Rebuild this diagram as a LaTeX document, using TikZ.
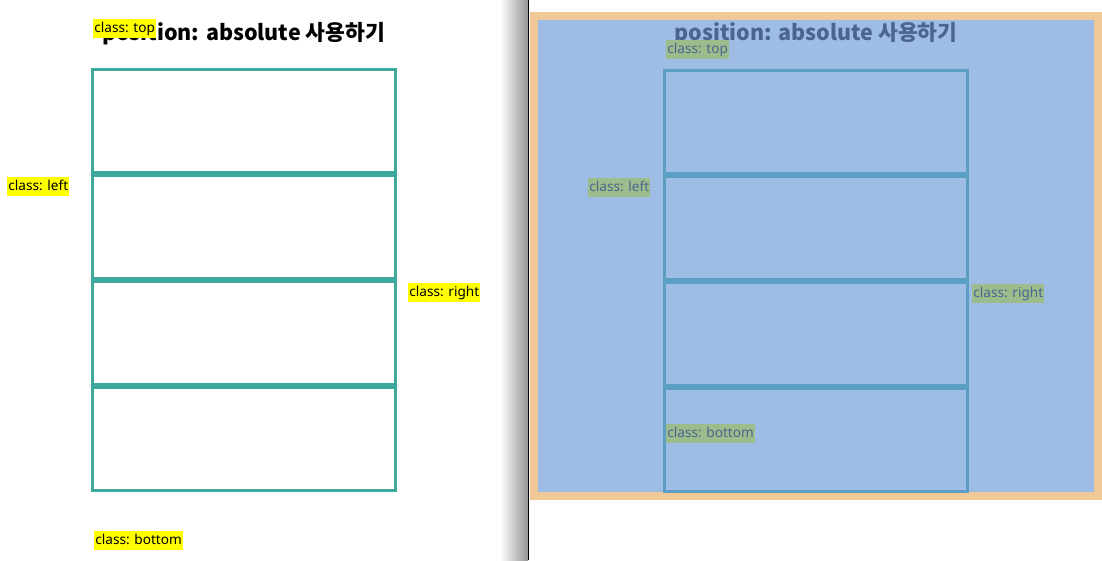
\documentclass[tikz,border=0pt]{standalone}
\usepackage{fontspec}
\usetikzlibrary{calc}
\newfontfamily\kofont{Noto Sans CJK KR}
\newfontfamily\labelfont{Noto Sans}
\definecolor{boxteal}{HTML}{3DA99D}
\definecolor{boxblue}{HTML}{5B9FC4}
\definecolor{overlayblue}{HTML}{9EBCE4}
\definecolor{frameorange}{HTML}{F1C897}
\definecolor{labelgreen}{HTML}{9DBC8C}
\definecolor{labeltext}{HTML}{4A6591}
\definecolor{labelyellow}{HTML}{FFFF00}
\tikzset{
  box/.style={draw=boxteal,line width=3pt,minimum width=303pt,minimum height=103pt,inner sep=0pt},
  rbox/.style={box,draw=boxblue},
  cls/.style={fill=labelyellow,text=black,font=\labelfont\fontsize{13.6}{14}\selectfont,
    inner xsep=1.2pt,inner ysep=2.5pt,text height=11pt,text depth=3pt,anchor=north west},
  rcls/.style={cls,fill=labelgreen,text=labeltext},
  pagetitle/.style={font=\kofont\bfseries\fontsize{21.5}{22}\selectfont,anchor=base}
}

\begin{document}
\begin{tikzpicture}[x=1pt,y=-1pt]
\useasboundingbox (0,0) rectangle (1102,560);
% left page
\node[pagetitle] (ltitle) at (243.5,40) {position: absolute 사용하기};
\node[box] (lbox1) at (244,121) {};
\node[box] (lbox2) at (244,227) {};
\node[box] (lbox3) at (244,333) {};
\node[box] (lbox4) at (244,439) {};
\node[cls] (ltop) at (93,19) {class: top};
\node[cls] (lleft) at (7,177) {class: left};
\node[cls] (lright) at (408,283) {class: right};
\node[cls] (lbottom) at (94,531) {class: bottom};
% divider
\shade[left color=white,right color=black!42] (500,0) rectangle (528,560);
\draw[black,line width=1pt] (528.5,0) -- (528.5,560);
% right page
\fill[frameorange] (530,12) rectangle (1102,500);
\fill[overlayblue] (538,20) rectangle (1094,492);
\node[pagetitle,text=labeltext] (rtitle) at (816,40) {position: absolute 사용하기};
\node[rbox] (rbox1) at (816,122) {};
\node[rbox] (rbox2) at (816,228) {};
\node[rbox] (rbox3) at (816,334) {};
\node[rbox] (rbox4) at (816,439.5) {};
\node[rcls] (rtop) at (666,40) {class: top};
\node[rcls] (rleft) at (588,178) {class: left};
\node[rcls] (rright) at (972,284) {class: right};
\node[rcls] (rbottom) at (666,424) {class: bottom};
\end{tikzpicture}
\end{document}
